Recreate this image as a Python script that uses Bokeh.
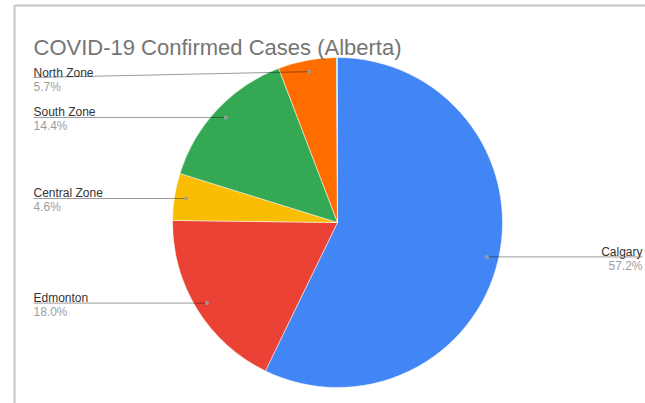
import math
from bokeh.plotting import figure
from bokeh.models import Range1d, ColumnDataSource
from bokeh.core.properties import value
from bokeh.embed import file_html
from bokeh.resources import INLINE

# ---- data ----
title = "COVID-19 Confirmed Cases (Alberta)"
zones = ["Calgary", "Edmonton", "Central Zone", "South Zone", "North Zone", "Other"]
shares = [57.2, 18.0, 4.6, 14.4, 5.7, 0.1]
pct_labels = ["57.2%", "18.0%", "4.6%", "14.4%", "5.7%", ""]
colors = ["#4285f4", "#ea4335", "#fbbc04", "#34a853", "#ff6d01", "#46bdc6"]
show_label = [True, True, True, True, True, False]

# ---- layout (page pixel space; y flipped into data space) ----
W, H = 645, 403
def Y(py):
    return H - py

CX, CY, R = 337, Y(222), 165
DOT_R = 0.93
LEFT_X, RIGHT_X = 33, 642
LABEL_TOP = 77
FONT = value("Liberation Sans")

p = figure(width=W, height=H, output_backend="svg", toolbar_location=None,
           x_range=Range1d(0, W), y_range=Range1d(0, H),
           x_axis_location=None, y_axis_location=None, min_border=0,
           outline_line_color=None, background_fill_color="white",
           border_fill_color="white")
p.grid.visible = False

total = sum(shares)
starts, ends, mids = [], [], []
cum = 0.0
for s in shares:
    a0 = cum / total
    cum += s
    a1 = cum / total
    starts.append(math.pi / 2 - a0 * 2 * math.pi)
    ends.append(math.pi / 2 - a1 * 2 * math.pi)
    mids.append(math.pi / 2 - (a0 + a1) / 2 * 2 * math.pi)

src = ColumnDataSource(dict(start=starts, end=ends, color=colors, zone=zones))
p.wedge(x=CX, y=CY, radius=R, start_angle="start", end_angle="end",
        direction="clock", fill_color="color", line_color="white",
        line_width=0.5, source=src)

# frame lines of the original screenshot
p.segment(x0=[14, 14], y0=[0, Y(5)], x1=[14, W], y1=[Y(5), Y(5)],
          line_color="#c4c4c4", line_width=2)

# title
p.text(x=[33], y=[Y(47)], text=[title], text_font=FONT, text_font_size="22px",
       text_color="#757575", text_baseline="alphabetic", text_align="left")

# labels with leader lines
for i, z in enumerate(zones):
    if not show_label[i]:
        continue
    dx = CX + DOT_R * R * math.cos(mids[i])
    dy_page = H - (CY + DOT_R * R * math.sin(mids[i]))
    right_side = math.cos(mids[i]) > 0
    ly_page = max(dy_page, LABEL_TOP)
    lx = RIGHT_X if right_side else LEFT_X
    p.line(x=[lx, dx], y=[Y(ly_page), Y(dy_page)], line_color="black",
           line_alpha=0.4, line_width=1)
    p.scatter(x=[dx], y=[Y(dy_page)], size=4, fill_color="#9e9e9e",
              line_color=None, fill_alpha=0.9)
    align = "right" if right_side else "left"
    p.text(x=[lx], y=[Y(ly_page - 5)], text=[z], text_font=FONT,
           text_font_size="12px", text_color="#333333",
           text_baseline="alphabetic", text_align=align)
    p.text(x=[lx], y=[Y(ly_page + 2)], text=[pct_labels[i]], text_font=FONT,
           text_font_size="12px", text_color="#9e9e9e",
           text_baseline="top", text_align=align)

open("out.html", "w").write(file_html(p, INLINE))
